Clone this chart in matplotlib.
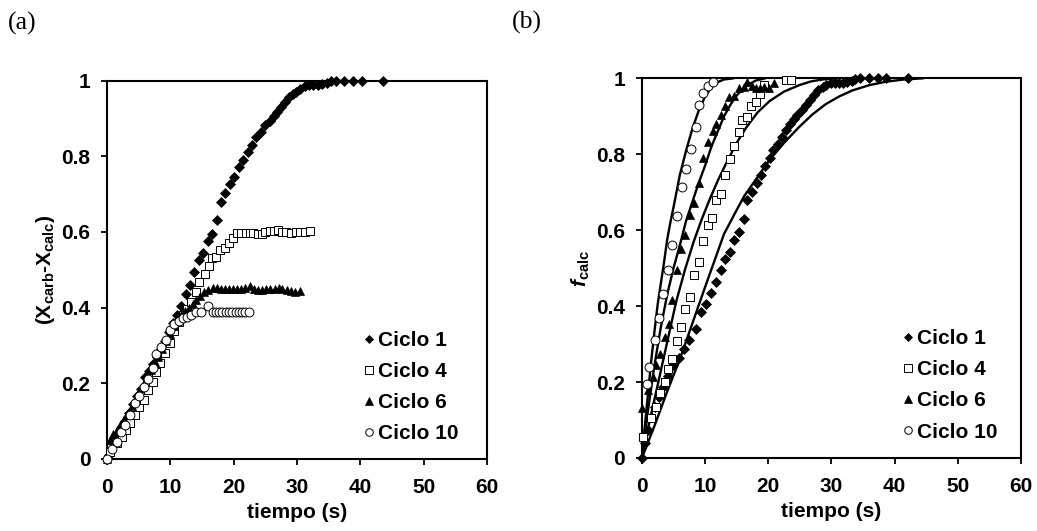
import matplotlib
matplotlib.use("Agg")
import matplotlib.pyplot as plt
from matplotlib.ticker import FuncFormatter

plt.rcParams['font.family'] = ['Liberation Sans', 'DejaVu Sans']
plt.rcParams['font.weight'] = 'bold'
plt.rcParams['mathtext.fontset'] = 'custom'
plt.rcParams['mathtext.rm'] = 'Liberation Sans:bold'
plt.rcParams['mathtext.bf'] = 'Liberation Sans:bold'
plt.rcParams['mathtext.it'] = 'Liberation Sans:italic:bold'
plt.rcParams['mathtext.bfit'] = 'Liberation Sans:italic:bold'

# ---------------- Panel (a): (Xcarb - Xcalc) vs tiempo ----------------
a_c1_t = [0, 0.3, 1.0, 1.6, 2.2, 2.9, 3.5, 4.1, 4.8, 5.4, 6.0, 6.7, 7.3, 7.9, 8.5, 9.2,
          9.8, 10.4, 11.0, 11.7, 12.4, 13.1, 13.8, 14.5, 15.2, 15.9, 16.6, 17.3, 18.0,
          18.7, 19.4, 20.1, 20.8, 21.5, 22.2, 22.9, 23.6, 24.3, 25.0, 25.7, 26.3, 26.9,
          27.5, 28.1, 28.7, 29.3, 29.9, 30.5, 31.2, 31.9, 32.6, 33.3, 34.0, 34.7, 35.3,
          36.1, 37.4, 38.8, 40.2, 43.6]
a_c1_y = [0, 0.01, 0.04, 0.06, 0.08, 0.10, 0.12, 0.145, 0.165, 0.185, 0.215, 0.232, 0.25,
          0.27, 0.29, 0.31, 0.335, 0.358, 0.38, 0.405, 0.435, 0.46, 0.495, 0.525, 0.545,
          0.575, 0.595, 0.632, 0.68, 0.702, 0.728, 0.746, 0.773, 0.79, 0.812, 0.83, 0.851,
          0.866, 0.883, 0.893, 0.906, 0.919, 0.932, 0.945, 0.957, 0.965, 0.972, 0.978,
          0.987, 0.99, 0.99, 0.99, 0.992, 0.995, 1.0, 1.0, 1.0, 1.0, 1.0, 1.0]

a_c4_t = [0.5, 1.6, 2.3, 3.05, 3.7, 4.4, 5.05, 5.8, 6.5, 7.2, 7.8, 8.4, 9.1, 9.9, 10.6,
          11.4, 12.0, 12.7, 13.3, 14.0, 14.6, 15.4, 16.05, 16.6, 17.2, 17.8, 18.6, 19.3,
          19.9, 20.5, 21.2, 21.9, 22.5, 23.1, 23.8, 24.4, 24.9, 25.7, 26.3, 27.0, 27.7,
          28.3, 29.1, 29.8, 30.4, 31.2, 32.0]
a_c4_y = [0.018, 0.04, 0.057, 0.075, 0.095, 0.115, 0.137, 0.155, 0.181, 0.203, 0.23, 0.252,
          0.28, 0.305, 0.338, 0.362, 0.38, 0.395, 0.415, 0.442, 0.468, 0.488, 0.51, 0.53,
          0.534, 0.552, 0.558, 0.572, 0.583, 0.598, 0.598, 0.598, 0.597, 0.597, 0.595,
          0.594, 0.6, 0.602, 0.602, 0.604, 0.6, 0.599, 0.597, 0.599, 0.6, 0.601, 0.603]

a_c6_t = [0, 0.4, 0.9, 1.5, 2.1, 2.7, 3.3, 3.9, 4.5, 5.1, 5.7, 6.3, 6.9, 7.5, 8.1, 8.7,
          9.3, 9.9, 10.5, 11.1, 11.7, 12.3, 12.9, 13.5, 14.1, 14.7, 15.3, 16.0, 16.7,
          17.4, 18.0, 18.6, 19.3, 19.9, 20.6, 21.2, 21.8, 22.5, 23.2, 23.8, 24.5, 25.1,
          25.8, 26.5, 27.1, 27.7, 28.4, 29.0, 29.7, 30.4]
a_c6_y = [0, 0.05, 0.065, 0.075, 0.09, 0.105, 0.12, 0.14, 0.16, 0.175, 0.195, 0.215, 0.235,
          0.255, 0.27, 0.29, 0.31, 0.33, 0.35, 0.365, 0.38, 0.39, 0.40, 0.41, 0.42, 0.43,
          0.44, 0.446, 0.452, 0.451, 0.448, 0.448, 0.448, 0.448, 0.448, 0.450, 0.452,
          0.457, 0.448, 0.446, 0.446, 0.448, 0.448, 0.450, 0.452, 0.448, 0.446, 0.443,
          0.442, 0.444]

a_c10_t = [0, 0.8, 1.5, 2.2, 2.9, 3.6, 4.4, 5.1, 5.8, 6.5, 7.2, 7.8, 8.5, 9.3, 9.9, 10.6,
           11.3, 12.0, 12.6, 13.3, 14.1, 14.9, 15.9, 16.7, 17.2, 17.7, 18.2, 18.8, 19.3,
           19.8, 20.3, 20.8, 21.3, 21.8, 22.4]
a_c10_y = [0, 0.025, 0.044, 0.07, 0.09, 0.115, 0.146, 0.165, 0.19, 0.21, 0.24, 0.277,
           0.295, 0.315, 0.34, 0.355, 0.365, 0.372, 0.375, 0.38, 0.389, 0.389, 0.405,
           0.389, 0.388, 0.389, 0.388, 0.388, 0.388, 0.388, 0.388, 0.388, 0.388, 0.388,
           0.387]

# ---------------- Panel (b): f_calc vs tiempo ----------------
b_c1_t = [0, 0.5, 1.0, 1.5, 2.0, 2.7, 3.3, 4.1, 4.9, 5.8, 6.6, 7.5, 8.5, 9.3, 10.2, 10.9,
          11.7, 12.5, 13.2, 14.0, 14.6, 15.3, 16.1, 16.7, 17.4, 18.2, 18.8, 19.5, 20.2,
          20.8, 21.5, 22.2, 22.8, 23.4, 24.1, 24.6, 25.3, 25.9, 26.6, 27.3, 27.9, 28.6,
          29.2, 29.9, 30.5, 31.2, 31.8, 32.5, 33.2, 33.8, 34.5, 36.0, 37.3, 38.6, 42.2]
b_c1_y = [0, 0.04, 0.075, 0.107, 0.134, 0.16, 0.186, 0.217, 0.244, 0.264, 0.286, 0.31,
          0.339, 0.384, 0.406, 0.435, 0.463, 0.494, 0.525, 0.543, 0.573, 0.595, 0.63,
          0.679, 0.701, 0.723, 0.745, 0.769, 0.789, 0.811, 0.828, 0.846, 0.864, 0.881,
          0.892, 0.903, 0.916, 0.93, 0.943, 0.956, 0.969, 0.978, 0.982, 0.987, 0.987,
          0.987, 0.988, 0.99, 0.993, 0.997, 1.0, 1.0, 1.0, 1.0, 1.0]

b_c4_t = [0.2, 1.5, 2.2, 2.8, 3.6, 4.1, 4.8, 5.5, 6.2, 6.9, 7.6, 8.3, 9.1, 9.7, 10.4,
          11.1, 11.8, 12.5, 13.2, 13.9, 14.5, 15.3, 15.9, 16.6, 17.3, 18.1, 18.7, 19.4,
          22.8, 23.6]
b_c4_y = [0.055, 0.105, 0.134, 0.171, 0.2, 0.235, 0.261, 0.308, 0.345, 0.393, 0.424,
          0.481, 0.516, 0.572, 0.613, 0.633, 0.679, 0.695, 0.745, 0.788, 0.821, 0.859,
          0.89, 0.897, 0.927, 0.937, 0.96, 0.982, 0.996, 0.996]

b_c6_t = [0.05, 0.9, 1.7, 2.2, 2.8, 3.6, 4.3, 4.8, 5.5, 6.2, 6.9, 7.6, 8.3, 9.0, 9.7,
          10.4, 11.2, 11.8, 12.5, 13.2, 13.8, 14.6, 15.3, 16.1, 16.7, 17.4, 18.0, 18.7,
          19.4, 20.1, 20.9]
b_c6_y = [0.131, 0.18, 0.213, 0.245, 0.274, 0.318, 0.352, 0.415, 0.494, 0.551, 0.587,
          0.64, 0.672, 0.725, 0.789, 0.833, 0.86, 0.881, 0.903, 0.927, 0.95, 0.953, 0.974,
          0.978, 0.989, 0.98, 0.975, 0.975, 0.976, 0.975, 0.988]

b_c10_t = [0.8, 1.2, 2.0, 2.7, 3.3, 4.1, 4.8, 5.5, 6.3, 7.0, 7.7, 8.5, 9.0, 9.6, 10.4, 11.2]
b_c10_y = [0.195, 0.239, 0.31, 0.37, 0.433, 0.494, 0.56, 0.638, 0.714, 0.76, 0.813, 0.872,
           0.93, 0.962, 0.98, 0.99]

# model curves
m_c1_t = [0, 2, 4, 6, 8, 10, 11.5, 13, 14.9, 16.2, 18.1, 20.2, 22.5, 24.9, 27, 29.1, 31.2,
          33.3, 36, 38.6, 41.5, 44.5]
m_c1_y = [0, 0.085, 0.175, 0.26, 0.355, 0.45, 0.52, 0.59, 0.65, 0.69, 0.735, 0.785, 0.83,
          0.872, 0.905, 0.932, 0.952, 0.968, 0.982, 0.991, 0.997, 1.0]
m_c4_t = [0, 1, 2, 3, 4, 5.4, 6.8, 8.2, 9.5, 10.7, 12, 13.3, 15, 16.5, 18.3, 20.2, 22.5,
          24.9, 26.8, 28.6, 31]
m_c4_y = [0, 0.08, 0.155, 0.23, 0.305, 0.41, 0.495, 0.57, 0.63, 0.68, 0.73, 0.775, 0.83,
          0.87, 0.91, 0.94, 0.965, 0.982, 0.992, 0.997, 1.0]
m_c6_t = [0, 1, 2, 3, 4, 5, 6, 7, 8, 9, 10, 11, 12, 13, 14, 15, 16, 17, 18, 19.5]
m_c6_y = [0, 0.13, 0.245, 0.345, 0.43, 0.5, 0.56, 0.625, 0.675, 0.725, 0.77, 0.82, 0.86,
          0.9, 0.93, 0.955, 0.972, 0.985, 0.994, 1.0]
m_c10_t = [0, 0.5, 1, 1.5, 2, 2.5, 3, 3.5, 4, 4.5, 5, 6, 7, 8, 9, 10, 11, 12, 13, 14.5]
m_c10_y = [0, 0.09, 0.175, 0.26, 0.335, 0.405, 0.46, 0.515, 0.575, 0.62, 0.66, 0.745,
           0.81, 0.868, 0.915, 0.952, 0.976, 0.99, 0.997, 1.0]

labels = ['Ciclo 1', 'Ciclo 4', 'Ciclo 6', 'Ciclo 10']
x_ticks = [0, 10, 20, 30, 40, 50, 60]
y_ticks = [0, 0.2, 0.4, 0.6, 0.8, 1]

fig = plt.figure(figsize=(10.37, 5.31), dpi=100)
ax_a = fig.add_axes([0.1032, 0.1365, 0.3664, 0.711])
ax_b = fig.add_axes([0.619, 0.1375, 0.3655, 0.715])

styles = [
    dict(marker='D', ms=5.0, mfc='black', mec='black', mew=0.5),
    dict(marker='s', ms=6.4, mfc='white', mec='black', mew=0.7),
    dict(marker='^', ms=6.4, mfc='black', mec='black', mew=0.5),
    dict(marker='o', ms=6.4, mfc='white', mec='black', mew=0.7),
]

for (t, y), st, lab in zip([(a_c1_t, a_c1_y), (a_c4_t, a_c4_y), (a_c6_t, a_c6_y),
                            (a_c10_t, a_c10_y)], styles, labels):
    ax_a.plot(t, y, ls='none', label=lab, clip_on=False, zorder=3, **st)

for t, y in [(m_c1_t, m_c1_y), (m_c4_t, m_c4_y), (m_c6_t, m_c6_y), (m_c10_t, m_c10_y)]:
    ax_b.plot(t, y, color='black', lw=1.7, solid_capstyle='round', zorder=2)

for (t, y), st, lab in zip([(b_c1_t, b_c1_y), (b_c4_t, b_c4_y), (b_c6_t, b_c6_y),
                            (b_c10_t, b_c10_y)], styles, labels):
    ax_b.plot(t, y, ls='none', label=lab, clip_on=False, zorder=3, **st)

fmt = FuncFormatter(lambda v, p: ('%g' % round(v, 2)))
for ax in (ax_a, ax_b):
    ax.set_xlim(0, 60)
    ax.set_ylim(0, 1)
    ax.set_xticks(x_ticks)
    ax.set_yticks(y_ticks)
    ax.yaxis.set_major_formatter(fmt)
    ax.tick_params(direction='out', length=4, width=1.3, labelsize=15, pad=8)
    ax.tick_params(axis='x', pad=10)
    for s in ax.spines.values():
        s.set_linewidth(1.5)
    for lab in ax.get_xticklabels() + ax.get_yticklabels():
        lab.set_fontweight('bold')
    ax.set_xlabel('tiempo (s)', fontsize=15, fontweight='bold', labelpad=4)
    ax.legend(loc='upper left', frameon=False, handlelength=0.5,
              handletextpad=0.15, labelspacing=0.58, borderaxespad=0,
              prop={'size': 15, 'weight': 'bold'}, markerscale=0.85)

ax_a.get_legend().set_bbox_to_anchor((0.655, 0.36), transform=ax_a.transAxes)
ax_b.get_legend().set_bbox_to_anchor((0.667, 0.361), transform=ax_b.transAxes)

ax_a.set_ylabel(r'(X$_{\mathbf{carb}}$-X$_{\mathbf{calc}}$)', fontsize=15,
                fontweight='bold', labelpad=3)
ax_b.set_ylabel(r'$\mathbfit{f}_{\mathbf{calc}}$', fontsize=15, labelpad=3)

fig.text(0.0215, 0.955, '(a)', fontsize=18.5, family='Liberation Serif',
         fontweight='normal', ha='center', va='center')
fig.text(0.508, 0.958, '(b)', fontsize=18.5, family='Liberation Serif',
         fontweight='normal', ha='center', va='center')

fig.savefig('out.png', dpi=100)
